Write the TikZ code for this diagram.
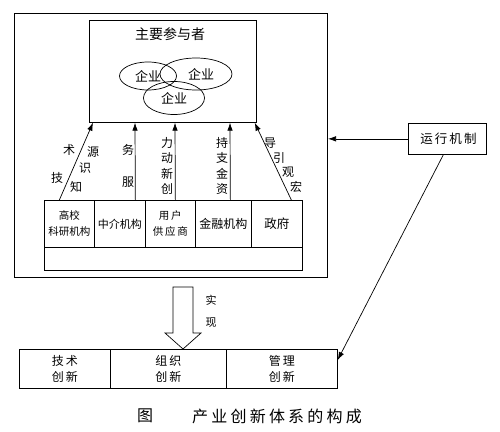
\documentclass[tikz,border=0pt]{standalone}
\usepackage{fontspec}
\setmainfont{Noto Sans CJK SC}
\newfontfamily\capfont[LetterSpace=20]{Noto Sans CJK SC}
\usetikzlibrary{arrows.meta,shapes.geometric}
\tikzset{
  box/.style={draw, line width=0.7pt, inner sep=0pt, anchor=north west, align=center},
  lbl/.style={font=\fontsize{12}{15.3}\selectfont, inner sep=0pt, align=center},
  arr/.style={line width=0.7pt, -{Latex[length=8pt,width=5.5pt]}},
  ell/.style={ellipse, draw, line width=0.7pt, inner sep=0pt, font=\fontsize{13}{15}\selectfont},
}
\begin{document}
\begin{tikzpicture}[x=1pt,y=-1pt]
        \useasboundingbox (0,0) rectangle (500,431);

        % Draw outer frame and main box
        \node (outer) [box, line width=1pt, minimum width=313pt, minimum height=264pt] at (14,13) {};
        \node (main) [box, minimum width=167pt, minimum height=102pt] at (89,20) {};
        \node (title) [lbl, font=\fontsize{14}{16}\selectfont] at (170,34) {主要参与者};

        % Draw overlapping ellipses
        \node (e1) [ell, minimum width=57pt, minimum height=28pt] at (148,76) {企业\hspace{8pt}};
        \node (e2) [ell, minimum width=72pt, minimum height=32pt] at (196,74) {\hspace{10pt}企业};
        \node (e3) [ell, minimum width=61pt, minimum height=33pt] at (174,98) {企业};

        % Draw the table of actors
        \node (c1) [box, minimum width=50pt, minimum height=47pt, font=\fontsize{10.5}{16}\selectfont] at (44,200) {高校\\科研机构};
        \node (c2) [box, minimum width=51pt, minimum height=47pt, font=\fontsize{11}{16}\selectfont] at (94,200) {中介机构};
        \node (c3) [box, minimum width=50pt, minimum height=47pt, font=\fontsize{10.5}{16}\selectfont] at (145,200) {用\,户\\供\,应\,商};
        \node (c4) [box, minimum width=56pt, minimum height=47pt, font=\fontsize{12}{16}\selectfont] at (195,200) {金融机构};
        \node (c5) [box, minimum width=51pt, minimum height=47pt, font=\fontsize{12.5}{16}\selectfont] at (251,200) {政府};
        \node (c6) [box, minimum width=258pt, minimum height=23pt] at (44,247) {};

        % Draw arrows into the main box
        \draw[arr] ([xshift=-10pt]c1.north) -- ([xshift=4pt]main.south west);
        \draw[arr] ([xshift=15.5pt]c2.north) -- ([xshift=46pt]main.south west);
        \draw[arr] ([xshift=5pt]c3.north) -- ([xshift=86pt]main.south west);
        \draw[arr] ([xshift=7pt]c4.north) -- ([xshift=141pt]main.south west);
        \draw[arr] ([xshift=14.5pt]c5.north) -- ([xshift=-2pt]main.south east);

        % Label the arrows
        \node (k1) [lbl] at (57,178) {技};
        \node (k2) [lbl] at (69,150) {术};
        \node (k3) [lbl] at (76,187) {知};
        \node (k4) [lbl] at (85,168) {识};
        \node (k5) [lbl] at (93,152) {源};
        \node (s1) [lbl] at (128,150) {务};
        \node (s2) [lbl] at (128,182) {服};
        \node (d1) [lbl] at (167,166) {力\\动\\新\\创};
        \node (f1) [lbl] at (222,166) {持\\支\\金\\资};
        \node (g1) [lbl] at (270,143) {导};
        \node (g2) [lbl] at (279,158) {引};
        \node (g3) [lbl] at (288,172) {观};
        \node (g4) [lbl] at (296,187) {宏};

        % Draw hollow arrow
        \draw[line width=0.7pt] (173,287) -- (193,287) -- (193,333) -- (201,333) -- (183,349) -- (165,333) -- (173,333) -- cycle;
        \node (r1) [lbl, font=\fontsize{11}{13}\selectfont] at (211,300) {实};
        \node (r2) [lbl, font=\fontsize{11}{13}\selectfont] at (211,323) {现};

        % Draw the kinds of innovation
        \node (b1) [box, minimum width=91pt, minimum height=39pt, font=\fontsize{12}{16}\selectfont] at (19,349) {技\,术\\创\,新};
        \node (b2) [box, minimum width=116pt, minimum height=39pt, font=\fontsize{12}{16}\selectfont] at (110,349) {组\,织\\创\,新};
        \node (b3) [box, minimum width=111pt, minimum height=39pt, font=\fontsize{12}{16}\selectfont] at (226,349) {管\,理\\创\,新};

        % Draw running mechanism and its arrows
        \node (run) [box, minimum width=78pt, minimum height=31pt, font=\fontsize{12.5}{14}\selectfont] at (408,123) {\,运\,行\,机\,制};
        \draw[arr] (run.west) -- (run.west -| outer.east);
        \draw[arr] ([xshift=-4pt]run.south) -- ([yshift=-11pt]b3.north east);

        % Caption
        \node (cap1) [inner sep=0pt, font=\fontsize{16}{18}\selectfont] at (145,416) {图};
        \node (cap2) [inner sep=0pt, font=\capfont\fontsize{16}{18}\selectfont] at (277,416) {产业创新体系的构成};
\end{tikzpicture}
\end{document}
